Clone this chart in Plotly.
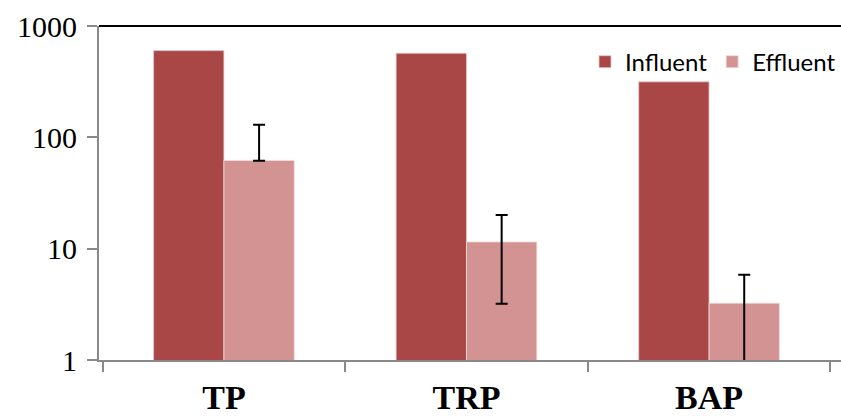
import plotly.graph_objects as go

categories = ["TP", "TRP", "BAP"]
influent = [601, 569, 315]
effluent = [62, 11.5, 3.24]
effluent_err_plus = [68, 8.6, 2.6]
effluent_err_minus = [0.5, 8.3, 4.0]
y_tickvals = [1, 10, 100, 1000]
y_ticktext = ["1", "10", "100", "1000"]

C_IN = "#A94646"
C_EF = "#D39393"
AX = "#898989"

fig = go.Figure()
fig.add_trace(go.Bar(
    name="Influent", x=categories, y=influent,
    marker=dict(color=C_IN, line=dict(color="#E9C9C9", width=0.8)),
))
fig.add_trace(go.Bar(
    name="Effluent", x=categories, y=effluent,
    marker=dict(color=C_EF, line=dict(color="#F0DCDC", width=0.8)),
    error_y=dict(type="data", symmetric=False, array=effluent_err_plus,
                 arrayminus=effluent_err_minus, color="black",
                 thickness=2, width=6),
))

fig.update_layout(
    width=841, height=416,
    margin=dict(l=99, r=0, t=26, b=56),
    paper_bgcolor="white", plot_bgcolor="white",
    barmode="group", bargap=0.42, bargroupgap=0,
    showlegend=True,
    legend=dict(orientation="h", x=1.0, xanchor="right", y=0.892, yanchor="middle",
                font=dict(family="Lato", size=24, color="black"),
                bgcolor="rgba(0,0,0,0)", itemwidth=30, tracegroupgap=0),
    shapes=[dict(type="line", xref="paper", yref="paper", x0=0, x1=1, y0=1, y1=1,
                 line=dict(color="black", width=2), layer="above")],
)
fig.update_xaxes(
    type="category", range=[-0.515, 2.544], automargin=False,
    tickvals=categories, ticktext=["<b>%s</b>" % c for c in categories],
    showline=True, linecolor=AX, linewidth=2,
    ticks="outside", tickson="boundaries", ticklen=10, tickcolor=AX, tickwidth=2,
    ticklabelstandoff=6,
    tickfont=dict(family="Liberation Serif", size=34, color="black"),
    showgrid=False, zeroline=False,
)
fig.update_yaxes(
    type="log", range=[0, 3], automargin=False,
    tickvals=y_tickvals, ticktext=y_ticktext,
    showline=True, linecolor=AX, linewidth=2,
    ticks="outside", ticklen=10, tickcolor=AX, tickwidth=2,
    ticklabelstandoff=4,
    tickfont=dict(family="Liberation Serif", size=30, color="black"),
    showgrid=False, zeroline=False,
)

fig.write_html("out.html")
